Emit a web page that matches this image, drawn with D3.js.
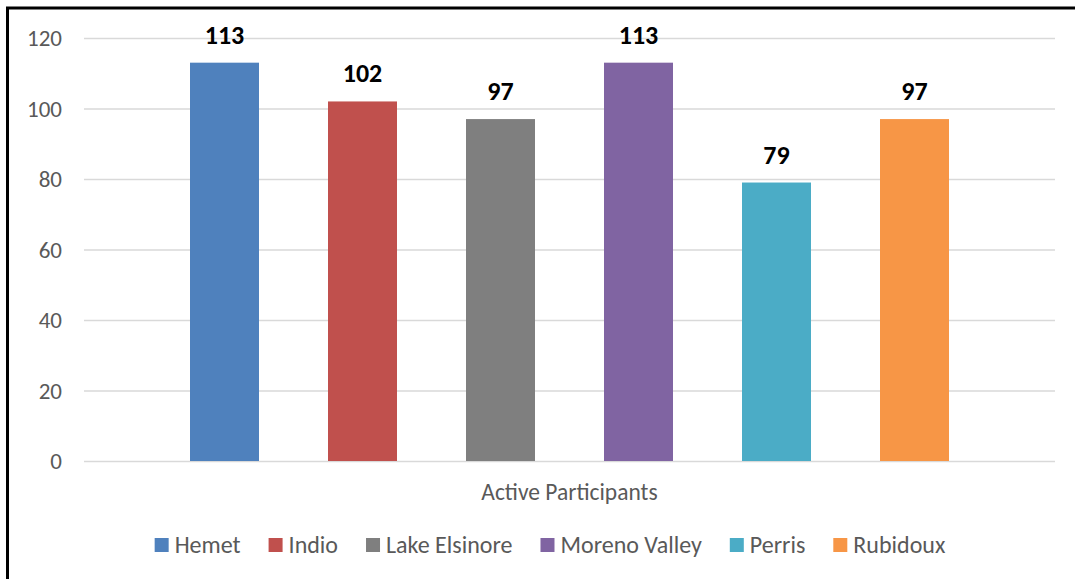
<!DOCTYPE html>
<html><head><meta charset="utf-8">
<script src="https://cdn.jsdelivr.net/npm/d3@7"></script>
<style>
html,body{margin:0;padding:0;background:#fff;}
svg{display:block;}
</style></head>
<body><svg id="c" width="1075" height="579"></svg>
<script>
const categories = ["Active Participants"];
const seriesNames = ["Hemet","Indio","Lake Elsinore","Moreno Valley","Perris","Rubidoux"];
const seriesValues = [113,102,97,113,79,97];
const seriesColors = ["#4F81BD","#C0504D","#7F7F7F","#8064A2","#4BACC6","#F79646"];
const yTicks = [0,20,40,60,80,100,120];

const svg = d3.select("#c");
const font = "Calibri, Carlito, Lato, 'Open Sans', sans-serif";

// frame
svg.append("line").attr("x1",7.5).attr("x2",7.5).attr("y1",7).attr("y2",579).attr("stroke","#000").attr("stroke-width",3);
svg.append("line").attr("x1",6).attr("x2",1075).attr("y1",8).attr("y2",8).attr("stroke","#000").attr("stroke-width",3);

const plot = {left:84, right:1055, top:38, bottom:461};
const y = d3.scaleLinear().domain([0,120]).range([plot.bottom, plot.top]);
const x0 = d3.scaleBand().domain(categories).range([plot.left, plot.right]).paddingInner(0).paddingOuter(0);
const x1 = d3.scaleBand().domain(seriesNames)
  .range([x0(categories[0]) + 71.5, x0(categories[0]) + x0.bandwidth() - 71.5])
  .paddingInner(0.5).paddingOuter(0.25);

// gridlines
const yAxis = d3.axisLeft(y).tickValues(yTicks).tickSize(-(plot.right-plot.left)).tickPadding(22);
const ga = svg.append("g").attr("transform",`translate(${plot.left},0)`).call(yAxis);
ga.select(".domain").remove();
ga.selectAll(".tick line").attr("stroke","#D9D9D9").attr("stroke-width",1.5);
ga.selectAll(".tick text").attr("fill","#595959").attr("font-family",font).attr("font-size",23).attr("dy","0.34em");

// bars
const data = seriesNames.map((s,i)=>({s, v:seriesValues[i], c:seriesColors[i]}));
svg.append("g").selectAll("rect").data(data).join("rect")
  .attr("x", d=>x1(d.s)).attr("width", x1.bandwidth())
  .attr("y", d=>y(d.v)).attr("height", d=>y(0)-y(d.v))
  .attr("fill", d=>d.c);

// value labels
svg.append("g").selectAll("text").data(data).join("text")
  .attr("x", d=>x1(d.s)+x1.bandwidth()/2).attr("y", d=>y(d.v)-19)
  .attr("text-anchor","middle").attr("font-family",font).attr("font-weight","bold")
  .attr("font-size",26).attr("fill","#000").text(d=>d.v);

// category label
svg.append("text").attr("x", x0(categories[0])+x0.bandwidth()/2).attr("y",500)
  .attr("text-anchor","middle").attr("font-family",font).attr("font-size",23.5).attr("fill","#595959")
  .text(categories[0]);

// legend
const lg = svg.append("g");
const items = lg.selectAll("g").data(data).join("g");
items.append("rect").attr("width",14).attr("height",14).attr("y",-15).attr("fill",d=>d.c);
items.append("text").attr("x",20).attr("y",0).attr("font-family",font).attr("font-size",24).attr("fill","#595959").text(d=>d.s);
let xpos = 0; const gap = 28;
const widths = [];
items.each(function(d){ const w = 20 + this.querySelector("text").getComputedTextLength(); widths.push(w); });
const total = d3.sum(widths) + gap*(widths.length-1);
const start = 550 - total/2;
items.attr("transform", (d,i)=>{ const t = `translate(${start+xpos},553)`; xpos += widths[i]+gap; return t; });
</script></body></html>
